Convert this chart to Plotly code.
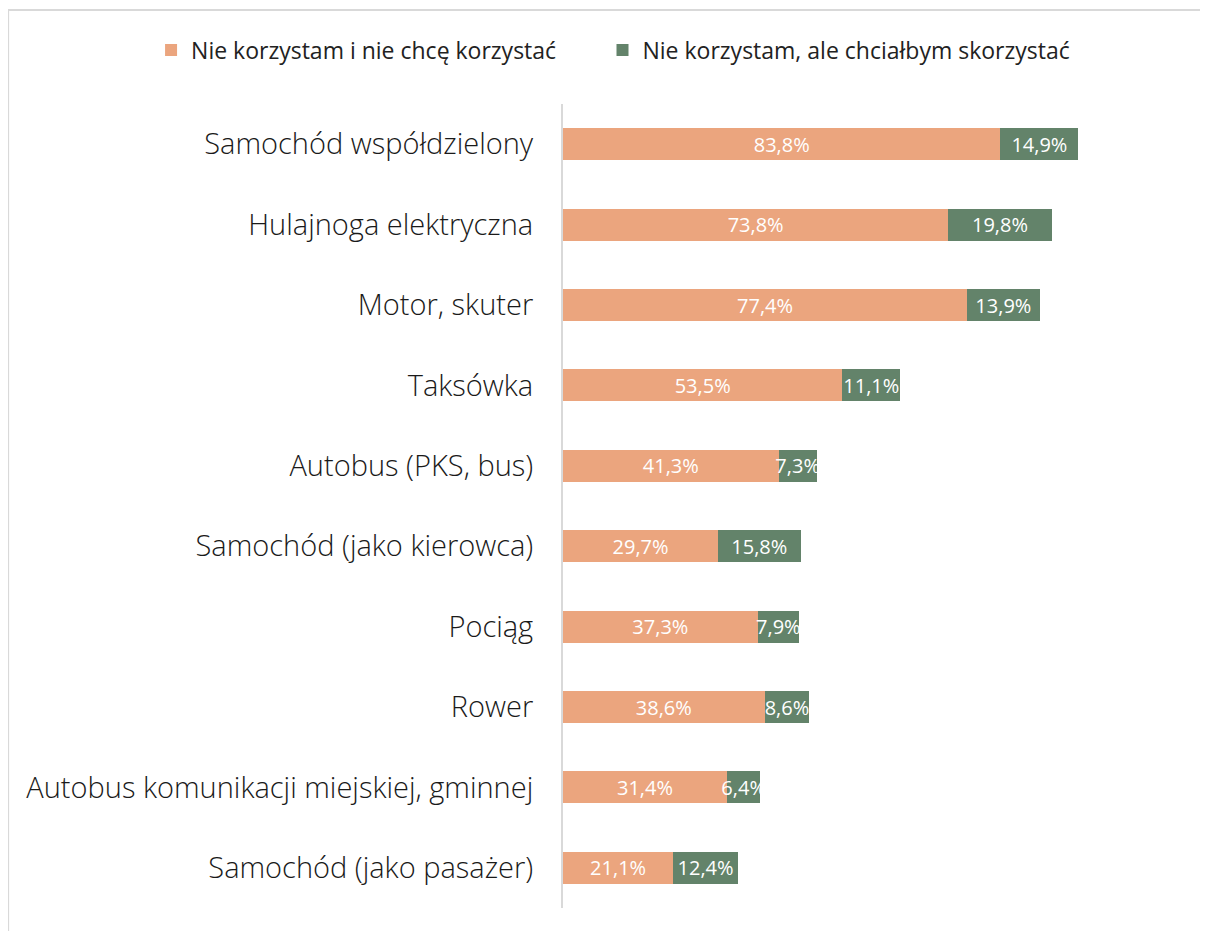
import plotly.graph_objects as go

categories = [
    "Samochód (jako pasażer)",
    "Autobus komunikacji miejskiej, gminnej",
    "Rower",
    "Pociąg",
    "Samochód (jako kierowca)",
    "Autobus (PKS, bus)",
    "Taksówka",
    "Motor, skuter",
    "Hulajnoga elektryczna",
    "Samochód współdzielony",
]
nie_chce = [21.1, 31.4, 38.6, 37.3, 29.7, 41.3, 53.5, 77.4, 73.8, 83.8]
chcialbym = [12.4, 6.4, 8.6, 7.9, 15.8, 7.3, 11.1, 13.9, 19.8, 14.9]
series_names = ["Nie korzystam i nie chcę korzystać", "Nie korzystam, ale chciałbym skorzystać"]


def fmt(v):
    return f"{v:.1f}%".replace(".", ",")


FONT = "Open Sans"
fig = go.Figure()
for name, vals, color, leg in [
    (series_names[0], nie_chce, "#EBA57E", "legend"),
    (series_names[1], chcialbym, "#63836A", "legend2"),
]:
    fig.add_trace(go.Bar(
        y=categories, x=vals, name=name, orientation="h", legend=leg,
        marker=dict(color=color, line=dict(width=0)),
        text=[fmt(v) for v in vals], textposition="inside",
        insidetextanchor="middle", constraintext="none",
        textfont=dict(color="white", size=20, family=FONT),
        hoverinfo="skip",
    ))

legend_common = dict(orientation="h", y=1.067, yanchor="middle", xanchor="left",
                     font=dict(size=23, family=FONT, color="#222222"),
                     itemwidth=30, bgcolor="rgba(0,0,0,0)")

fig.update_layout(
    barmode="stack", bargap=0.6,
    width=1208, height=931,
    margin=dict(l=555, r=26, t=96, b=31),
    paper_bgcolor="white", plot_bgcolor="white",
    font=dict(family=FONT, color="#000000"),
    legend=dict(x=-0.657, **legend_common),
    legend2=dict(x=0.063, **legend_common),
    xaxis=dict(range=[0, 120.1], visible=False, fixedrange=True),
    yaxis=dict(categoryorder="array", categoryarray=categories, showline=True,
               linecolor="#d9d9d9", linewidth=2, ticks="", ticklabelstandoff=22,
               tickfont=dict(size=29, family=FONT, color="#1a1a1a", weight=300), showgrid=False),
    shapes=[dict(type="rect", xref="paper", yref="paper", x0=-0.885, x1=1.1, y0=-0.1, y1=1.1169,
                 line=dict(color="#d9d9d9", width=2), fillcolor="rgba(0,0,0,0)", layer="below")],
    showlegend=True,
)
fig.write_html("out.html")
